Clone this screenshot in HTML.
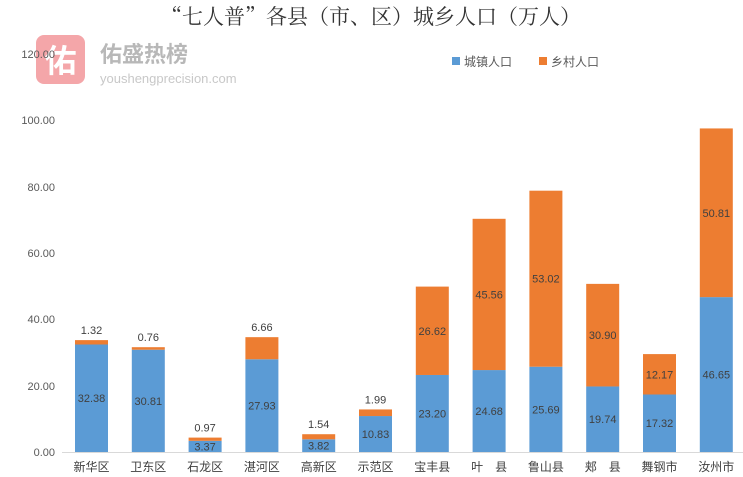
<!DOCTYPE html>
<html><head><meta charset="utf-8"><style>
body{margin:0;background:#fff;}
svg{display:block;font-family:"Liberation Sans","Noto Sans CJK SC",sans-serif;}
</style></head><body>
<svg id="s" width="743" height="477" viewBox="0 0 743 477" xmlns="http://www.w3.org/2000/svg">
<text x="371" y="24" text-anchor="middle" font-size="21" fill="#333" font-family="'Noto Serif CJK SC',serif">“七人普”各县（市、区）城乡人口（万人）</text>
<rect x="36" y="35" width="49" height="49" rx="8" fill="#f4a6a9"/>
<text x="60.5" y="72" text-anchor="middle" font-size="32" font-weight="bold" fill="#fff">佑</text>
<text x="100" y="62" font-size="22" font-weight="bold" fill="#b8b8b8">佑盛热榜</text>
<text x="100" y="83" font-size="13" fill="#c8c8c8">youshengprecision.com</text>
<g font-size="11" fill="#595959" text-anchor="end">
<text x="55" y="58">120.00</text><text x="55" y="124">100.00</text><text x="55" y="191">80.00</text>
<text x="55" y="257">60.00</text><text x="55" y="323">40.00</text><text x="55" y="390">20.00</text><text x="55" y="456">0.00</text>
</g>
<line x1="62" y1="452.5" x2="743" y2="452.5" stroke="#d9d9d9"/>
<rect x="452" y="57" width="8" height="8" fill="#5b9bd5"/><text x="464" y="66" font-size="12" fill="#595959">城镇人口</text>
<rect x="539" y="57" width="8" height="8" fill="#ed7d31"/><text x="551" y="66" font-size="12" fill="#595959">乡村人口</text>
<g id="bars"></g>
</svg>
<script>
var d=[["新华区",32.38,1.32],["卫东区",30.81,0.76],["石龙区",3.37,0.97],["湛河区",27.93,6.66],["高新区",3.82,1.54],["示范区",10.83,1.99],["宝丰县",23.20,26.62],["叶　县",24.68,45.56],["鲁山县",25.69,53.02],["郏　县",19.74,30.90],["舞钢市",17.32,12.17],["汝州市",46.65,50.81]];
var g=document.getElementById("bars"),h="",k=3.32,b=452;
d.forEach(function(r,i){var c=91.5+i*56.8,x=c-16.5,u=r[1]*k,v=r[2]*k;
h+='<rect x="'+x+'" y="'+(b-u)+'" width="33" height="'+u+'" fill="#5b9bd5"/>';
h+='<rect x="'+x+'" y="'+(b-u-v)+'" width="33" height="'+v+'" fill="#ed7d31"/>';
h+='<text x="'+c+'" y="'+(b-u/2+4)+'" text-anchor="middle" font-size="11" fill="#404040">'+r[1].toFixed(2)+'</text>';
var oy=v>25?(b-u-v/2+4):(b-u-v-6);
h+='<text x="'+c+'" y="'+oy+'" text-anchor="middle" font-size="11" fill="#404040">'+r[2].toFixed(2)+'</text>';
h+='<text x="'+c+'" y="471" text-anchor="middle" font-size="12" fill="#404040">'+r[0]+'</text>';});
g.innerHTML=h;
</script>
</body></html>
